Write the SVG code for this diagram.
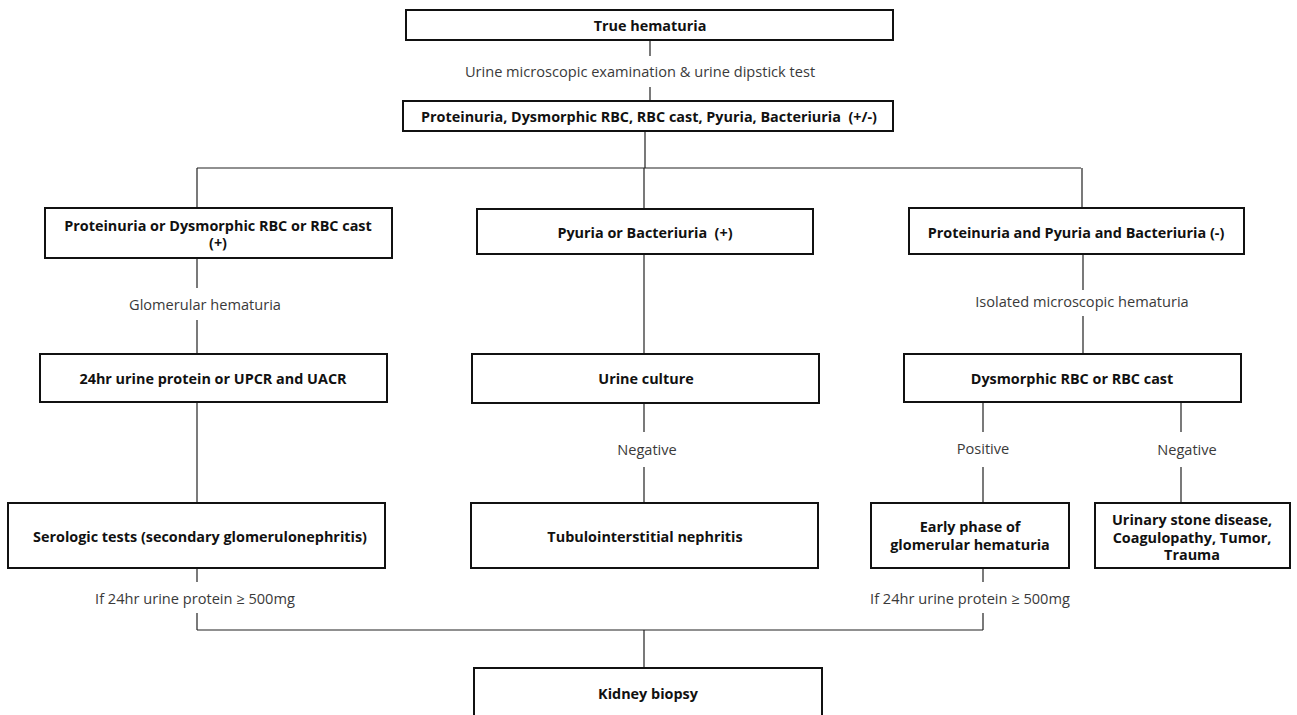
<svg xmlns="http://www.w3.org/2000/svg" width="1297" height="715" viewBox="0 0 1297 715">
<style>
.box{fill:#fff;stroke:#111;stroke-width:2}
.t{font-family:"Open Sans","Liberation Sans",sans-serif;font-weight:bold;font-size:14.4px;fill:#111;text-anchor:middle;white-space:pre}
.l{font-family:"Open Sans","Liberation Sans",sans-serif;font-size:14.6px;fill:#3a3a3a;text-anchor:middle}
.c{stroke:#222;stroke-width:1.2;fill:none}
</style>
<rect width="1297" height="715" fill="#fff"/>
<g id="connectors">
<path class="c" d="M650 40V56M650 87V101"/>
<path class="c" d="M645 131V168M197 168H1081M197 168V208M644 168V209M1082 168V208"/>
<path class="c" d="M197 258V288M197 320V354"/>
<path class="c" d="M644 254V354"/>
<path class="c" d="M1083 254V290M1083 316V354"/>
<path class="c" d="M197 402V503"/>
<path class="c" d="M644 403V432M644 467V503"/>
<path class="c" d="M983 402V432M983 467V503"/>
<path class="c" d="M1181 402V432M1181 467V503"/>
<path class="c" d="M197 568V582M197 613V630M983 568V582M983 613V630M197 630H983M644 630V668"/>
</g>
<g id="labels">
<text class="l" x="640" y="77">Urine microscopic examination &amp; urine dipstick test</text>
<text class="l" x="205" y="310">Glomerular hematuria</text>
<text class="l" x="1082" y="307">Isolated microscopic hematuria</text>
<text class="l" x="647" y="455">Negative</text>
<text class="l" x="983" y="454">Positive</text>
<text class="l" x="1187" y="455">Negative</text>
<text class="l" x="195" y="604">If 24hr urine protein ≥ 500mg</text>
<text class="l" x="970" y="604">If 24hr urine protein ≥ 500mg</text>
</g>
<g id="n1"><rect class="box" x="406" y="10" width="487" height="30"/><text class="t" x="650" y="31">True hematuria</text></g>
<g id="n2"><rect class="box" x="403" y="101" width="490" height="30"/><text class="t" x="649" y="122">Proteinuria, Dysmorphic RBC, RBC cast, Pyuria, Bacteriuria  (+/-)</text></g>
<g id="n3"><rect class="box" x="45" y="208" width="347" height="50"/><text class="t" x="218" y="231">Proteinuria or Dysmorphic RBC or RBC cast</text><text class="t" x="218" y="248">(+)</text></g>
<g id="n4"><rect class="box" x="477" y="209" width="336" height="45"/><text class="t" x="645" y="238">Pyuria or Bacteriuria  (+)</text></g>
<g id="n5"><rect class="box" x="909" y="208" width="335" height="46"/><text class="t" x="1076" y="238">Proteinuria and Pyuria and Bacteriuria (-)</text></g>
<g id="n6"><rect class="box" x="40" y="354" width="347" height="48"/><text class="t" x="213" y="384">24hr urine protein or UPCR and UACR</text></g>
<g id="n7"><rect class="box" x="472" y="354" width="347" height="49"/><text class="t" x="646" y="384">Urine culture</text></g>
<g id="n8"><rect class="box" x="904" y="354" width="337" height="48"/><text class="t" x="1072" y="384">Dysmorphic RBC or RBC cast</text></g>
<g id="n9"><rect class="box" x="8" y="503" width="377" height="65"/><text class="t" x="200" y="542">Serologic tests (secondary glomerulonephritis)</text></g>
<g id="n10"><rect class="box" x="471" y="503" width="347" height="65"/><text class="t" x="645" y="542">Tubulointerstitial nephritis</text></g>
<g id="n11"><rect class="box" x="871" y="503" width="198" height="65"/><text class="t" x="970" y="532">Early phase of</text><text class="t" x="970" y="550">glomerular hematuria</text></g>
<g id="n12"><rect class="box" x="1095" y="503" width="195" height="65"/><text class="t" x="1192" y="525">Urinary stone disease,</text><text class="t" x="1192" y="543">Coagulopathy, Tumor,</text><text class="t" x="1192" y="560">Trauma</text></g>
<g id="n13"><rect class="box" x="474" y="668" width="348" height="60"/><text class="t" x="648" y="699">Kidney biopsy</text></g>
</svg>
